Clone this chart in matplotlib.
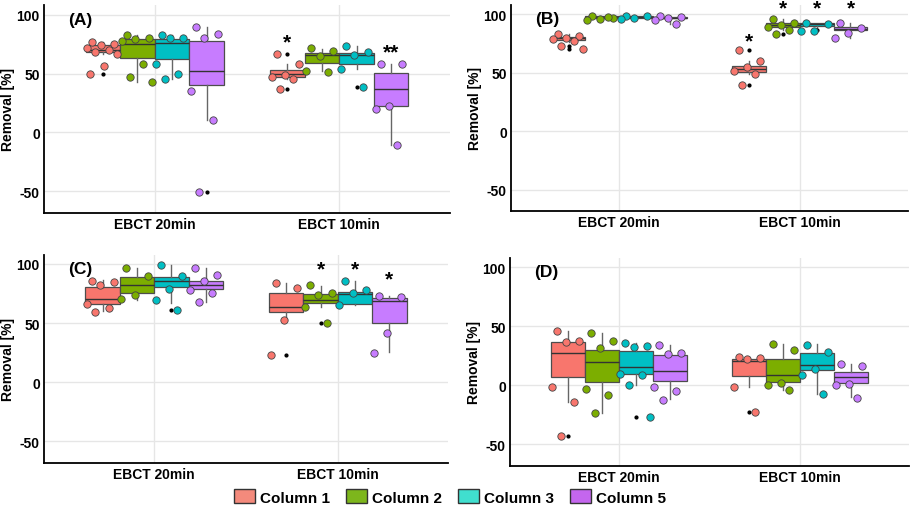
import matplotlib
matplotlib.use('Agg')

import numpy as np
import matplotlib.pyplot as plt
from matplotlib.patches import Patch

plt.rcParams['font.family'] = ['Liberation Sans', 'DejaVu Sans']
plt.rcParams['font.weight'] = 'bold'

# categories and groups
ebct = ['EBCT 20min', 'EBCT 10min']
columns = ['Column 1', 'Column 2', 'Column 3', 'Column 5']
box_colors = ['#F8766D', '#7CAE00', '#00BFC4', '#C77CFF']
key_colors = ['#F48A7C', '#7DB61C', '#40DFCF', '#C466EE']

# each list: EBCT 20min (col1, col2, col3, col5), then EBCT 10min (col1, col2, col3, col5)
# ---- panel A ----
A_Q1 = [68.4, 63.6, 62.0, 40.7, 46.9, 59.0, 58.5, 22.6]
A_MED = [70.0, 75.4, 76.3, 52.3, 49.4, 65.8, 65.5, 36.7]
A_Q3 = [74.3, 79.0, 79.7, 77.7, 53.0, 67.8, 67.2, 50.3]
A_LO = [67.0, 42.7, 45.0, 10.7, 45.0, 52.0, 54.0, -10.5]
A_HI = [77.0, 83.0, 83.0, 89.5, 58.5, 71.2, 73.4, 58.5]
A_PTS = [[77, 75.5, 74, 72, 70, 68, 67, 56.5, 49.7],
         [82.5, 80, 79.5, 78, 58, 47.5, 42.7],
         [82.7, 80.5, 80, 58.5, 50, 45],
         [89.5, 83.3, 80, 35, 10.7, -50.3],
         [66.7, 58, 49, 47, 45, 37.3],
         [71.5, 69.5, 65, 52.5, 51.5],
         [73.4, 68.5, 66, 54, 38.4],
         [58.5, 58, 22.5, 19.8, -10.5]]
A_OUT = [[56.5, 49.7], [], [], [-50.3], [66.7, 37.3], [], [38.4], []]
A_STARS = ['', '', '', '', '*', '', '', '**']
A_STAR_Y = [0, 0, 0, 0, 79.7, 0, 0, 71.2]

# ---- panel B ----
B_Q1 = [78.3, 97.0, 97.0, 96.5, 50.7, 89.0, 90.0, 86.5]
B_MED = [79.7, 97.7, 97.8, 97.0, 53.5, 90.7, 91.5, 87.9]
B_Q3 = [81.0, 98.6, 98.5, 98.0, 56.3, 93.0, 93.0, 89.3]
B_LO = [76.0, 95.2, 96.0, 92.1, 49.0, 86.5, 86.0, 79.4]
B_HI = [83.0, 99.0, 99.0, 99.0, 60.0, 96.0, 93.0, 92.5]
B_PTS = [[83, 81.5, 80, 79, 77, 73.2, 70.1],
         [99, 97, 96, 95.2, 98],
         [99, 98.5, 97, 96],
         [99, 98, 97, 95, 92.1],
         [69.9, 60, 55, 52, 49, 39.7],
         [96, 93, 91, 89.5, 86.5, 83.4],
         [93, 91.5, 86, 86],
         [92.5, 88, 84, 79.4]]
B_OUT = [[73.2, 70.1], [], [], [], [69.9, 39.7], [83.4], [86.5], []]
B_STARS = ['', '', '', '', '*', '*', '*', '*']
B_STAR_Y = [0, 0, 0, 0, 80.3, 108.5, 108.5, 108.5]

# ---- panel C ----
C_Q1 = [66.2, 75.2, 80.3, 78.6, 59.4, 66.8, 66.2, 50.1]
C_MED = [70.1, 82.0, 85.4, 82.3, 63.4, 69.3, 74.6, 69.0]
C_Q3 = [80.3, 88.7, 89.3, 85.9, 75.2, 74.6, 76.6, 71.0]
C_LO = [60.0, 69.6, 67.0, 67.6, 52.7, 63.4, 65.0, 25.4]
C_HI = [86.5, 96.3, 99.4, 96.3, 83.7, 81.7, 85.9, 72.5]
C_PTS = [[85.5, 85, 82.5, 66, 63, 59.5],
         [96.5, 89.5, 74, 70],
         [99.5, 89.5, 79, 69.5, 61.5],
         [96.5, 90.5, 86, 78, 75.5, 67.5],
         [83.5, 80, 52.5, 23.1],
         [82, 75.5, 74, 63.5, 50.1],
         [85.5, 78, 75.5, 65],
         [72.5, 72, 41.5, 25]]
C_OUT = [[], [], [61.5], [], [23.1], [50.1], [], []]
C_STARS = ['', '', '', '', '', '*', '*', '*']
C_STAR_Y = [0, 0, 0, 0, 0, 98.6, 98.6, 90.7]

# ---- panel D ----
D_Q1 = [7.4, 2.8, 9.6, 3.4, 8.2, 2.8, 13.3, 2.0]
D_MED = [27.5, 19.5, 15.9, 11.9, 20.4, 8.8, 17.3, 7.1]
D_Q3 = [36.5, 30.0, 29.5, 26.0, 22.4, 22.0, 27.2, 11.0]
D_LO = [-14.4, -23.5, 0.0, -11.6, -1.0, -4.0, -7.4, -10.2]
D_HI = [45.9, 44.2, 36.0, 34.0, 24.4, 35.0, 35.0, 18.0]
D_PTS = [[46, 37.5, 37, -1.7, -14.5, -42.8],
         [44, 38, 32, -3, -8.5, -23.5],
         [35.5, 33.5, 32.5, 9.5, 8.5, 0, -26.9],
         [34, 27, 26.5, -1.5, -4.5, -12.5],
         [24, 23.5, 22.5, -1.5, -22.4],
         [35, 30, 2, 0, -4],
         [34, 28, 14, 9, -7.5],
         [18.5, 16.5, 1, 0.5, -10.5]]
D_OUT = [[-42.8], [], [-26.9], [], [-22.4], [], [], []]
D_STARS = [''] * 8
D_STAR_Y = [0] * 8

panels = [
    ('(A)', (44, 6.3, 450, 213.5), A_Q1, A_MED, A_Q3, A_LO, A_HI, A_PTS, A_OUT, A_STARS, A_STAR_Y),
    ('(B)', (511, 6, 908, 212), B_Q1, B_MED, B_Q3, B_LO, B_HI, B_PTS, B_OUT, B_STARS, B_STAR_Y),
    ('(C)', (44, 255.5, 448, 463.7), C_Q1, C_MED, C_Q3, C_LO, C_HI, C_PTS, C_OUT, C_STARS, C_STAR_Y),
    ('(D)', (510, 259, 908.8, 466.5), D_Q1, D_MED, D_Q3, D_LO, D_HI, D_PTS, D_OUT, D_STARS, D_STAR_Y),
]

W, H = 916, 506
fig = plt.figure(figsize=(W / 100, H / 100), dpi=100)

dodge = np.array([-0.28125, -0.09375, 0.09375, 0.28125])
box_w = 0.1875

for tag, (x0, y0, x1, y1), q1, med, q3, lo, hi, pts, out, stars, star_y in panels:
    ax = fig.add_axes([x0 / W, 1 - y1 / H, (x1 - x0) / W, (y1 - y0) / H])
    positions = []
    stats = []
    for i in range(8):
        cat = i // 4
        grp = i % 4
        positions.append(cat + 1 + dodge[grp])
        stats.append({'q1': q1[i], 'med': med[i], 'q3': q3[i],
                      'whislo': lo[i], 'whishi': hi[i], 'fliers': out[i]})
    bp = ax.bxp(stats, positions=positions, widths=box_w, patch_artist=True,
                showcaps=False,
                boxprops=dict(edgecolor='#4d4d4d', linewidth=0.9),
                medianprops=dict(color='#333333', linewidth=1.0),
                whiskerprops=dict(color='#666666', linewidth=1.0),
                flierprops=dict(marker='o', markersize=2, markerfacecolor='black',
                                markeredgecolor='black'))
    for i, patch in enumerate(bp['boxes']):
        patch.set_facecolor(box_colors[i % 4])
    # jittered raw points
    for i in range(8):
        vals = np.array(pts[i], dtype=float)
        n = len(vals)
        offs = ((np.arange(n) * 0.618 + 0.2) % 1 - 0.5) * 0.19
        ax.scatter(positions[i] + offs, vals, s=28, color=box_colors[i % 4],
                   edgecolors='#444444', linewidths=0.6, zorder=4)
        if stars[i]:
            ax.text(positions[i], star_y[i] - 3, stars[i], ha='center', va='center',
                    fontsize=15, fontweight='bold', color='black', zorder=5)

    ax.set_xlim(0.4, 2.6)
    ax.set_ylim(-68, 108)
    ax.set_xticks([1, 2])
    ax.set_xticklabels(ebct, fontsize=10, fontweight='bold')
    ax.set_yticks([-50, 0, 50, 100])
    ax.set_yticklabels(['-50', '0', '50', '100'], fontsize=10, fontweight='bold')
    ax.tick_params(length=0, pad=3)
    ax.set_ylabel('Removal [%]', fontsize=10, fontweight='bold', labelpad=1)
    ax.grid(True, color='#E6E6E6', linewidth=1.0)
    ax.set_axisbelow(True)
    for s in ['top', 'right']:
        ax.spines[s].set_visible(False)
    for s in ['left', 'bottom']:
        ax.spines[s].set_linewidth(1.3)
        ax.spines[s].set_color('black')
    ax.text(0.06, 0.97, tag, transform=ax.transAxes, ha='left', va='top',
            fontsize=12.5, fontweight='bold')

handles = [Patch(facecolor=c, edgecolor='#333333', linewidth=1.0, label=l)
           for c, l in zip(key_colors, columns)]
fig.legend(handles=handles, loc='center', bbox_to_anchor=(450 / W, 1 - 498 / H),
           ncol=4, frameon=False, prop={'size': 11, 'weight': 'bold'},
           handlelength=1.4, handleheight=1.0, handletextpad=0.35, columnspacing=1.0)

fig.savefig('out.png', dpi=100)
